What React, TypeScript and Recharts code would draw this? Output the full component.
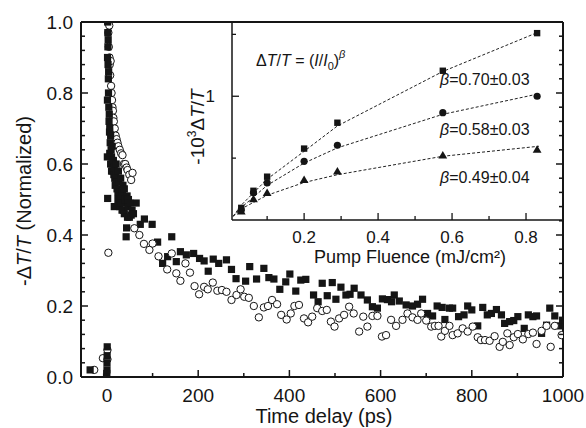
import { ScatterChart, Scatter, XAxis, YAxis, CartesianGrid } from "recharts";

const W = 586;
const H = 428;
const FONT = '"Liberation Sans", Arial, Helvetica, sans-serif';
const INK = "#151515";

// main panel: -dT/T (normalized) vs time delay (ps), [t, value]
const squareEarly: [number, number][] = [
  [-37, 0.02], [-1, 0.0], [-0.5, 0.01], [0, 0.02], [0, 0.04], [0.3, 0.06], [0.5, 0.085],
  [0.8, 0.62], [1, 0.78], [1.2, 0.9], [1.5, 1.0], [1.5, 0.503], [1.8, 0.97], [2, 0.93],
  [2.3, 0.88], [2.6, 0.95], [3, 0.84], [3.3, 0.8], [3.6, 0.86], [4, 0.76], [4.5, 0.72],
  [5, 0.74], [5.5, 0.69], [6, 0.7], [6, 0.63], [7, 0.66], [8, 0.68], [8, 0.6], [9, 0.64],
  [10, 0.62], [10, 0.58], [11, 0.65], [12, 0.6], [13, 0.58], [14, 0.61], [15, 0.57],
  [16, 0.48], [16, 0.59], [17, 0.56], [18, 0.54], [19, 0.57], [20, 0.55], [20, 0.6],
  [22, 0.53], [24, 0.52], [24, 0.5], [25, 0.58], [26, 0.55], [28, 0.5], [28, 0.48],
  [30, 0.51], [30, 0.56], [32, 0.49], [33, 0.47], [34, 0.52], [35, 0.54], [36, 0.47],
  [38, 0.46], [38, 0.53], [40, 0.5], [42, 0.395], [43, 0.42], [44, 0.51], [45, 0.45],
  [46, 0.48], [47, 0.5], [49, 0.45], [50, 0.49], [53, 0.456], [55, 0.47], [58, 0.46],
];
const squareLate: [number, number][] = [
  [64, 0.49], [73, 0.43], [82, 0.445], [99, 0.43], [111, 0.38], [122, 0.32], [133, 0.339],
  [142, 0.395], [152, 0.325], [161, 0.353], [174, 0.344], [190, 0.348], [203, 0.334],
  [213, 0.327], [222, 0.298], [233, 0.332], [245, 0.32], [262, 0.33], [273, 0.303],
  [283, 0.277], [304, 0.27], [313, 0.311], [328, 0.276], [344, 0.306], [355, 0.28],
  [366, 0.276], [379, 0.247], [392, 0.268], [401, 0.29], [414, 0.242], [425, 0.273],
  [436, 0.275], [453, 0.231], [463, 0.212], [472, 0.264], [483, 0.229], [494, 0.266],
  [502, 0.219], [513, 0.253], [524, 0.231], [533, 0.233], [542, 0.25], [557, 0.231],
  [571, 0.217], [582, 0.198], [593, 0.194], [604, 0.22], [615, 0.218], [624, 0.212],
  [630, 0.231], [641, 0.214], [656, 0.203], [670, 0.2], [681, 0.205], [692, 0.219],
  [703, 0.179], [714, 0.172], [724, 0.2], [735, 0.196], [741, 0.162], [751, 0.194],
  [758, 0.194], [771, 0.17], [783, 0.175], [791, 0.2], [800, 0.189], [813, 0.144],
  [824, 0.196], [834, 0.175], [843, 0.179], [854, 0.19], [865, 0.175], [872, 0.151],
  [883, 0.156], [892, 0.159], [901, 0.17], [915, 0.137], [924, 0.175], [934, 0.17],
  [942, 0.172], [953, 0.123], [964, 0.146], [971, 0.194], [982, 0.172], [993, 0.144],
  [999, 0.16],
];
const circleEarly: [number, number][] = [
  [-28, 0.02], [-9, 0.053], [1, 0.05], [1, 0.076], [3, 0.35],
  [2, 1.0], [3, 0.97], [4, 0.93], [5, 0.99], [5.5, 0.9], [6, 0.88], [7, 0.85], [8, 0.89],
  [9, 0.82], [10, 0.8], [11, 0.78], [12, 0.76], [13, 0.75], [14, 0.73], [15, 0.72],
  [17, 0.7], [19, 0.68], [21, 0.67], [23, 0.66], [25, 0.65], [28, 0.64], [31, 0.63],
  [34, 0.625], [37, 0.6], [40, 0.6], [43, 0.59], [45, 0.583], [49, 0.57], [53, 0.555],
  [56, 0.575],
];
const circleLate: [number, number][] = [
  [60, 0.419], [71, 0.4], [81, 0.375], [93, 0.358], [100, 0.376], [113, 0.34], [132, 0.303],
  [142, 0.348], [152, 0.292], [161, 0.271], [172, 0.32], [182, 0.294], [192, 0.256],
  [202, 0.233], [213, 0.254], [221, 0.247], [232, 0.266], [242, 0.243], [252, 0.245],
  [262, 0.24], [273, 0.217], [284, 0.231], [293, 0.247], [301, 0.226], [311, 0.223],
  [322, 0.2], [333, 0.168], [344, 0.196], [353, 0.2], [362, 0.217], [373, 0.205],
  [382, 0.175], [394, 0.162], [403, 0.179], [411, 0.2], [421, 0.203], [432, 0.165],
  [441, 0.154], [450, 0.17], [461, 0.194], [472, 0.186], [482, 0.189], [491, 0.156],
  [499, 0.142], [509, 0.165], [520, 0.175], [531, 0.198], [541, 0.179], [553, 0.128],
  [562, 0.17], [571, 0.142], [582, 0.172], [593, 0.172], [603, 0.114], [612, 0.118],
  [623, 0.161], [634, 0.144], [648, 0.161], [659, 0.179], [670, 0.168], [681, 0.161],
  [689, 0.179], [700, 0.159], [711, 0.142], [719, 0.144], [727, 0.144], [733, 0.114],
  [741, 0.13], [751, 0.144], [758, 0.118], [769, 0.123], [780, 0.137], [791, 0.128],
  [802, 0.142], [813, 0.112], [820, 0.104], [829, 0.104], [839, 0.102], [850, 0.115],
  [861, 0.085], [868, 0.099], [878, 0.123], [883, 0.09], [892, 0.112], [901, 0.121],
  [912, 0.106], [924, 0.121], [934, 0.125], [942, 0.093], [953, 0.13], [964, 0.144],
  [973, 0.085], [982, 0.144], [997, 0.118],
];

const timeTicks = [0, 100, 200, 300, 400, 500, 600, 700, 800, 900, 1000];
const signalTicks = [
  0, 0.04, 0.08, 0.12, 0.16, 0.2, 0.24, 0.28, 0.32, 0.36, 0.4, 0.44, 0.48, 0.52, 0.56, 0.6,
  0.64, 0.68, 0.72, 0.76, 0.8, 0.84, 0.88, 0.92, 0.96, 1.0,
];

// inset: -10^3 dT/T vs pump fluence (mJ/cm^2)
const fluence = [0.03, 0.063, 0.1, 0.2, 0.29, 0.575, 0.83];
const insetSquares = [0.098, 0.236, 0.35, 0.577, 0.786, 1.206, 1.51];
const insetCircles = [0.08, 0.22, 0.3, 0.474, 0.604, 0.867, 1.0];
const insetTriangles = [0.07, 0.17, 0.22, 0.325, 0.393, 0.523, 0.57];

// dashed power-law fits
const fitFluence = [0.008, 0.03, 0.1, 0.2, 0.29, 0.575, 0.835];
const fitSquares = [0.03, 0.12, 0.33, 0.555, 0.76, 1.2, 1.52];
const fitCircles = [0.03, 0.1, 0.28, 0.46, 0.583, 0.854, 1.02];
const fitTriangles = [0.03, 0.09, 0.2, 0.303, 0.366, 0.515, 0.596];

const fluenceTicks = [0.1, 0.2, 0.3, 0.4, 0.5, 0.6, 0.7, 0.8];
const insetYTicks = [0.5, 1, 1.5];

const pts = (arr: [number, number][]) => arr.map(([t, v]) => ({ t, v }));
const zip = (xs: number[], ys: number[]) => xs.map((x, i) => ({ x, y: ys[i] }));

const isMult = (v: number, step: number) => Math.abs(v / step - Math.round(v / step)) < 1e-6;

// ---- tick renderers (all ticks point into the plot) ----
const BottomTick = ({ x, y, payload }: any) => {
  const major = isMult(payload.value, 200);
  return (
    <g>
      <line x1={x} x2={x} y1={y} y2={y - (major ? 7 : 4)} stroke={INK} strokeWidth={1.5} />
      {major && (
        <text x={x} y={y + 25} textAnchor="middle" fontSize={19} fontFamily={FONT} fill={INK}>
          {payload.value}
        </text>
      )}
    </g>
  );
};
const TopTick = ({ x, y, payload }: any) => {
  const major = isMult(payload.value, 200);
  return <line x1={x} x2={x} y1={y} y2={y + (major ? 7 : 4)} stroke={INK} strokeWidth={1.5} />;
};
const LeftTick = ({ x, y, payload }: any) => {
  const major = isMult(payload.value, 0.2);
  return (
    <g>
      <line x1={x} x2={x + (major ? 7 : 4)} y1={y} y2={y} stroke={INK} strokeWidth={1.5} />
      {major && (
        <text x={x - 8} y={y + 7} textAnchor="end" fontSize={19} fontFamily={FONT} fill={INK}>
          {payload.value.toFixed(1)}
        </text>
      )}
    </g>
  );
};
const RightTick = ({ x, y, payload }: any) => {
  const major = isMult(payload.value, 0.2);
  return <line x1={x} x2={x - (major ? 7 : 4)} y1={y} y2={y} stroke={INK} strokeWidth={1.5} />;
};
const InsetBottomTick = ({ x, y, payload }: any) => {
  const major = isMult(payload.value, 0.2);
  return (
    <g>
      <line x1={x} x2={x} y1={y} y2={y - (major ? 7 : 4)} stroke={INK} strokeWidth={1.3} />
      {major && (
        <text x={x} y={y + 23} textAnchor="middle" fontSize={17} fontFamily={FONT} fill={INK}>
          {payload.value.toFixed(1)}
        </text>
      )}
    </g>
  );
};
const InsetLeftTick = ({ x, y, payload }: any) => {
  const major = payload.value === 1;
  return (
    <g>
      <line x1={x} x2={x + (major ? 7 : 4)} y1={y} y2={y} stroke={INK} strokeWidth={1.3} />
      {major && (
        <text x={x - 17} y={y + 6} textAnchor="end" fontSize={17} fontFamily={FONT} fill={INK}>
          1
        </text>
      )}
    </g>
  );
};

// ---- marker shapes ----
const BigSquare = ({ cx, cy }: any) => <rect x={cx - 3.6} y={cy - 3.6} width={7.2} height={7.2} fill={INK} />;
const OpenCircle = ({ cx, cy }: any) => (
  <circle cx={cx} cy={cy} r={3.7} fill="#fff" stroke={INK} strokeWidth={1} />
);
const SmallSquare = ({ cx, cy }: any) => <rect x={cx - 3.2} y={cy - 3.2} width={6.4} height={6.4} fill={INK} />;
const Dot = ({ cx, cy }: any) => <circle cx={cx} cy={cy} r={3.6} fill={INK} />;
const Tri = ({ cx, cy }: any) => (
  <path d={`M${cx},${cy - 4.3} L${cx + 4.4},${cy + 3.2} L${cx - 4.4},${cy + 3.2} Z`} fill={INK} />
);
const Nothing = () => <g />;

const fitLine = { stroke: "#222", strokeWidth: 1, strokeDasharray: "3 2" };

const abs = (left: number, top: number) => ({ position: "absolute" as const, left, top });

// axes get a 1px box (recharts skips axes of size 0); margins are set so the
// plot frame lands at x 81..563, y 22..377 (inset: x 232..563, y 22..220)
const App = () => (
  <div style={{ ...abs(0, 0), width: W, height: H, background: "#fff", fontFamily: FONT }}>
    {/* inset, drawn underneath the main frame */}
    <div style={abs(0, 0)}>
      <ScatterChart width={W} height={H} margin={{ top: 22, right: 23, bottom: 207, left: 231 }}>
        <CartesianGrid fill="#fff" stroke="none" horizontal={false} vertical={false} />
        <XAxis
          type="number"
          dataKey="x"
          domain={[0.005, 0.9]}
          allowDataOverflow
          ticks={fluenceTicks}
          interval={0}
          height={1}
          tickSize={0}
          tickMargin={0}
          tickLine={false}
          tick={<InsetBottomTick />}
          axisLine={{ stroke: INK, strokeWidth: 1.5 }}
        />
        <YAxis
          type="number"
          dataKey="y"
          domain={[0, 1.6]}
          allowDataOverflow
          ticks={insetYTicks}
          interval={0}
          width={1}
          tickSize={0}
          tickMargin={0}
          tickLine={false}
          tick={<InsetLeftTick />}
          axisLine={{ stroke: INK, strokeWidth: 1.5 }}
        />
        <Scatter data={zip(fitFluence, fitSquares)} line={fitLine} shape={Nothing} isAnimationActive={false} />
        <Scatter data={zip(fitFluence, fitCircles)} line={fitLine} shape={Nothing} isAnimationActive={false} />
        <Scatter data={zip(fitFluence, fitTriangles)} line={fitLine} shape={Nothing} isAnimationActive={false} />
        <Scatter data={zip(fluence, insetSquares)} shape={SmallSquare} isAnimationActive={false} />
        <Scatter data={zip(fluence, insetCircles)} shape={Dot} isAnimationActive={false} />
        <Scatter data={zip(fluence, insetTriangles)} shape={Tri} isAnimationActive={false} />
      </ScatterChart>
    </div>

    {/* main panel */}
    <div style={abs(0, 0)}>
      <ScatterChart width={W} height={H} margin={{ top: 21, right: 22, bottom: 50, left: 80 }}>
        <XAxis
          type="number"
          dataKey="t"
          domain={[-57, 1000]}
          allowDataOverflow
          ticks={timeTicks}
          interval={0}
          height={1}
          tickSize={0}
          tickMargin={0}
          tickLine={false}
          tick={<BottomTick />}
          axisLine={{ stroke: INK, strokeWidth: 2 }}
        />
        <XAxis
          xAxisId="top"
          orientation="top"
          type="number"
          domain={[-57, 1000]}
          allowDataOverflow
          ticks={timeTicks}
          interval={0}
          height={1}
          tickSize={0}
          tickMargin={0}
          tickLine={false}
          tick={<TopTick />}
          axisLine={{ stroke: INK, strokeWidth: 2 }}
        />
        <YAxis
          type="number"
          dataKey="v"
          domain={[0, 1]}
          allowDataOverflow
          ticks={signalTicks}
          interval={0}
          width={1}
          tickSize={0}
          tickMargin={0}
          tickLine={false}
          tick={<LeftTick />}
          axisLine={{ stroke: INK, strokeWidth: 2 }}
        />
        <YAxis
          yAxisId="right"
          orientation="right"
          type="number"
          domain={[0, 1]}
          allowDataOverflow
          ticks={signalTicks}
          interval={0}
          width={1}
          tickSize={0}
          tickMargin={0}
          tickLine={false}
          tick={<RightTick />}
          axisLine={{ stroke: INK, strokeWidth: 2 }}
        />
        <Scatter data={pts(squareLate)} shape={BigSquare} isAnimationActive={false} />
        <Scatter data={pts(circleLate)} shape={OpenCircle} isAnimationActive={false} />
        <Scatter data={pts(circleEarly)} shape={OpenCircle} isAnimationActive={false} />
        <Scatter data={pts(squareEarly)} shape={BigSquare} isAnimationActive={false} />
      </ScatterChart>
    </div>

    {/* titles and annotations */}
    <svg style={abs(0, 0)} width={W} height={H} fontFamily={FONT} fill={INK}>
      <text x={324} y={423} textAnchor="middle" fontSize={20}>
        Time delay (ps)
      </text>
      <text transform="translate(31,201) rotate(-90)" textAnchor="middle" fontSize={20}>
        -Δ<tspan fontStyle="italic">T</tspan>/<tspan fontStyle="italic">T</tspan> (Normalized)
      </text>
      <text x={410} y={263} textAnchor="middle" fontSize={18}>
        Pump Fluence (mJ/cm²)
      </text>
      <text transform="translate(204,127) rotate(-90)" textAnchor="middle" fontSize={19}>
        -10<tspan fontSize={12} dy={-8}>3</tspan>
        <tspan dy={8}>Δ</tspan>
        <tspan fontStyle="italic">T</tspan>/<tspan fontStyle="italic">T</tspan>
      </text>
      <text x={256} y={66} fontSize={16}>
        Δ<tspan fontStyle="italic">T</tspan>/<tspan fontStyle="italic">T</tspan> = (
        <tspan fontStyle="italic">I</tspan>/<tspan fontStyle="italic">I</tspan>
        <tspan fontSize={11} dy={4}>0</tspan>
        <tspan dy={-4}>)</tspan>
        <tspan fontSize={11} dy={-8} fontStyle="italic">β</tspan>
      </text>
      <text x={440} y={85} fontSize={16}>
        <tspan fontStyle="italic">β</tspan>=0.70±0.03
      </text>
      <text x={440} y={135} fontSize={16}>
        <tspan fontStyle="italic">β</tspan>=0.58±0.03
      </text>
      <text x={440} y={183} fontSize={16}>
        <tspan fontStyle="italic">β</tspan>=0.49±0.04
      </text>
    </svg>
  </div>
);

export default App;
